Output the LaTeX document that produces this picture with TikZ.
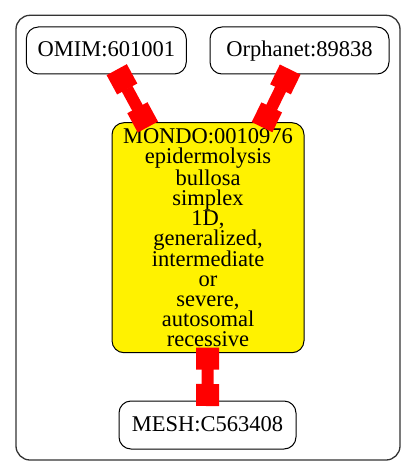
\documentclass[tikz,border=0pt]{standalone}
\usepackage{fontspec}
\setmainfont{Liberation Serif}
\usetikzlibrary{calc}
\begin{document}
\begin{tikzpicture}[x=1pt,y=-1pt,
  box/.style={draw=black, line width=1pt, rounded corners=12pt, inner sep=0pt, font=\fontsize{22.5}{20}\selectfont},
  single/.style={box, text height=14pt, text depth=1pt},
  teebar/.style={draw=red, line width=23pt},
  teeline/.style={draw=red, line width=12pt}]
\useasboundingbox (0,0) rectangle (416,476);
\draw[draw=black!80, line width=1.3pt, rounded corners=14pt] (16,15.3) rectangle (400,460);
\node[single, minimum width=160pt, minimum height=47pt] (omim) at (106.3,50.5) {OMIM:601001};
\node[single, minimum width=179pt, minimum height=47pt] (orpha) at (299.5,50.5) {Orphanet:89838};
\node[box, fill=yellow, align=center, minimum width=192pt, minimum height=230pt] (mondo) at (208,237.7) {MONDO:0010976\\epidermolysis\\bullosa\\simplex\\1D,\\generalized,\\intermediate\\or\\severe,\\autosomal\\recessive};
\node[single, minimum width=177pt, minimum height=48pt] (mesh) at (207.5,425) {MESH:C563408};
\foreach \s/\t/\n in {omim/mondo/a, orpha/mondo/b, mondo/mesh/c} {
  \path (\s) -- (\t) coordinate[pos=0] (\n0) coordinate[pos=1] (\n1);
  \draw[teeline] ($(\n0)!16pt!(\n1)$) -- ($(\n1)!16pt!(\n0)$);
  \draw[teebar] ($(\n0)!-5.5pt!(\n1)$) -- ($(\n0)!16.5pt!(\n1)$);
  \draw[teebar] ($(\n1)!-5.5pt!(\n0)$) -- ($(\n1)!16.5pt!(\n0)$);
}
\end{tikzpicture}
\end{document}
